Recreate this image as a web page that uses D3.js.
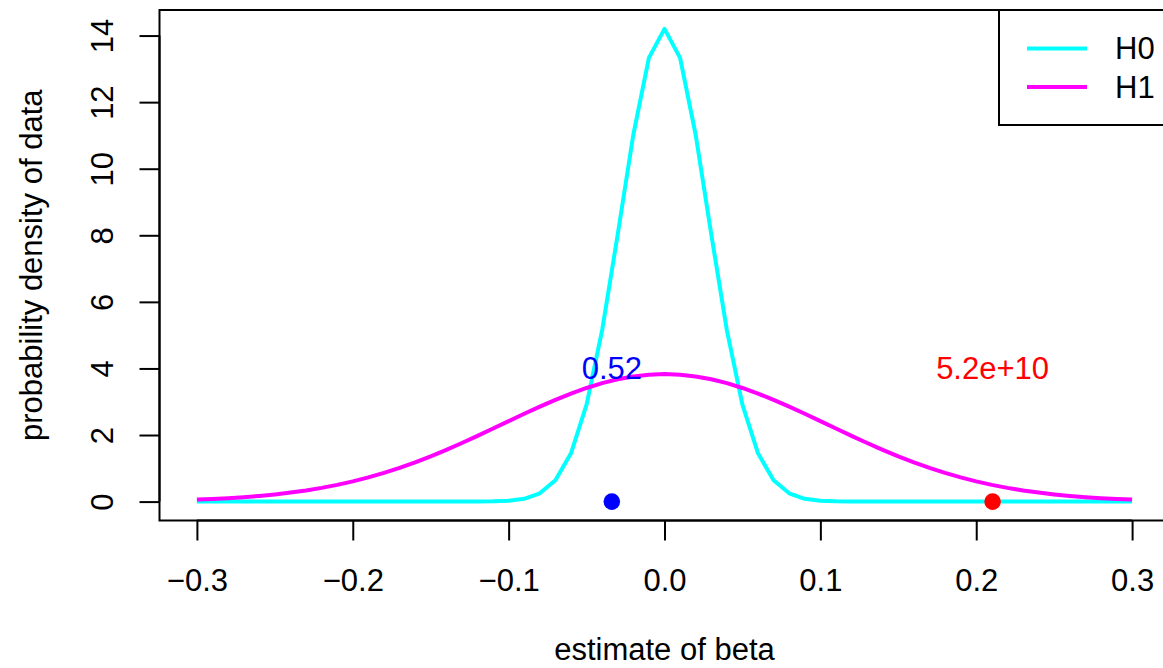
<!DOCTYPE html>
<html>
<head>
<meta charset="utf-8">
<script src="https://cdn.jsdelivr.net/npm/d3@7"></script>
<style>
  body { margin: 0; background: #fff; }
  svg { display: block; }
  text { font-family: "Liberation Sans", Arial, sans-serif; }
</style>
</head>
<body>
<svg id="chart" width="1163" height="668"></svg>
<script>
// ---- data ----
const betaGrid = [-0.30,-0.29,-0.28,-0.27,-0.26,-0.25,-0.24,-0.23,-0.22,-0.21,
  -0.20,-0.19,-0.18,-0.17,-0.16,-0.15,-0.14,-0.13,-0.12,-0.11,
  -0.10,-0.09,-0.08,-0.07,-0.06,-0.05,-0.04,-0.03,-0.02,-0.01,
  0.00,0.01,0.02,0.03,0.04,0.05,0.06,0.07,0.08,0.09,
  0.10,0.11,0.12,0.13,0.14,0.15,0.16,0.17,0.18,0.19,
  0.20,0.21,0.22,0.23,0.24,0.25,0.26,0.27,0.28,0.29,0.30];
const densityH0 = [0,0,0,0,0,0,0,0,0,0,
  0,0,0,0,0,0,0,0.0003,0.0015,0.0066,
  0.025,0.084,0.25,0.64,1.45,2.91,5.15,8.03,11.02,13.33,
  14.2,13.33,11.02,8.03,5.15,2.91,1.45,0.64,0.25,0.084,
  0.025,0.0066,0.0015,0.0003,0,0,0,0,0,0,
  0,0,0,0,0,0,0,0,0,0,0];
const densityH1 = [0.061,0.080,0.104,0.133,0.170,0.215,0.270,0.335,0.412,0.502,
  0.607,0.726,0.861,1.012,1.178,1.359,1.553,1.759,1.973,2.194,
  2.417,2.638,2.852,3.056,3.245,3.413,3.558,3.674,3.760,3.812,
  3.83,3.812,3.760,3.674,3.558,3.413,3.245,3.056,2.852,2.638,
  2.417,2.194,1.973,1.759,1.553,1.359,1.178,1.012,0.861,0.726,
  0.607,0.502,0.412,0.335,0.270,0.215,0.170,0.133,0.104,0.080,0.061];
const markerBeta = [-0.0338, 0.2105];
const markerLabels = ["0.52", "5.2e+10"];
const markerColors = ["#0000FF", "#FF0000"];
const markerLabelY = 4;
const seriesNames = ["H0", "H1"];
const seriesColors = ["#00FFFF", "#FF00FF"];
const xTicks = [-0.3,-0.2,-0.1,0.0,0.1,0.2,0.3];
const yTicks = [0,2,4,6,8,10,12,14];

// ---- layout ----
const svg = d3.select("#chart");
const FS = 31;
const x = d3.scaleLinear().domain([-0.324, 0.324]).range([159.5, 1169.5]);
const y = d3.scaleLinear().domain([-0.568, 14.768]).range([520.5, 10]);

// plot box
svg.append("rect")
  .attr("x", x(-0.324)).attr("y", y(14.768))
  .attr("width", x(0.324) - x(-0.324)).attr("height", y(-0.568) - y(14.768))
  .attr("fill", "none").attr("stroke", "#000").attr("stroke-width", 2);

// x axis
const xAxis = d3.axisBottom(x).tickValues(xTicks).tickSize(20).tickPadding(28)
  .tickFormat(d => d3.format(".1f")(d).replace("-", "\u2212"));
const gx = svg.append("g").attr("transform", `translate(0,${y(-0.568)})`).call(xAxis);
gx.select(".domain").attr("d", `M${x(-0.3)},0H${x(0.3)}`).attr("stroke-width", 2);
gx.selectAll(".tick line").attr("stroke-width", 2);
gx.selectAll(".tick text").attr("font-size", FS).attr("font-family", "Liberation Sans, Arial, sans-serif").attr("fill", "#000");

// y axis
const yAxis = d3.axisLeft(y).tickValues(yTicks).tickSize(20).tickFormat(d3.format("d"));
const gy = svg.append("g").attr("transform", `translate(${x(-0.324)},0)`).call(yAxis);
gy.select(".domain").attr("d", `M0,${y(0)}V${y(14)}`).attr("stroke-width", 2);
gy.selectAll(".tick line").attr("stroke-width", 2);
gy.selectAll(".tick text").remove();
gy.selectAll(".tick").append("text")
  .attr("transform", "translate(-47,0) rotate(-90)")
  .attr("text-anchor", "middle")
  .attr("font-size", FS).attr("fill", "#000")
  .text(d => d3.format("d")(d));

// axis titles
svg.append("text").attr("x", x(0)).attr("y", 660).attr("text-anchor", "middle")
  .attr("font-size", FS).text("estimate of beta");
svg.append("text").attr("transform", `translate(42,${(y(-0.568)+y(14.768))/2}) rotate(-90)`)
  .attr("text-anchor", "middle").attr("font-size", FS).text("probability density of data");

// curves
const line = d3.line().x((d, i) => x(betaGrid[i])).y(d => y(d));
svg.append("path").datum(densityH0).attr("d", line).attr("fill", "none")
  .attr("stroke", seriesColors[0]).attr("stroke-width", 4).attr("stroke-linejoin", "round");
svg.append("path").datum(densityH1).attr("d", line).attr("fill", "none")
  .attr("stroke", seriesColors[1]).attr("stroke-width", 4).attr("stroke-linejoin", "round");

// markers
svg.selectAll("circle.mk").data(markerBeta).enter().append("circle")
  .attr("cx", d => x(d)).attr("cy", y(0)).attr("r", 8.3)
  .attr("fill", (d, i) => markerColors[i]);
svg.selectAll("text.mk").data(markerBeta).enter().append("text")
  .attr("x", d => x(d)).attr("y", y(markerLabelY)).attr("dy", "0.35em")
  .attr("text-anchor", "middle").attr("font-size", FS)
  .attr("fill", (d, i) => markerColors[i]).text((d, i) => markerLabels[i]);

// legend
svg.append("rect").attr("x", 999).attr("y", 10).attr("width", 200).attr("height", 115)
  .attr("fill", "#fff").attr("stroke", "#000").attr("stroke-width", 2);
seriesNames.forEach((name, i) => {
  const ly = 48.5 + i * 38.5;
  svg.append("line").attr("x1", 1027).attr("x2", 1087).attr("y1", ly).attr("y2", ly)
    .attr("stroke", seriesColors[i]).attr("stroke-width", 4);
  svg.append("text").attr("x", 1115).attr("y", ly).attr("dy", "0.35em")
    .attr("font-size", FS).text(name);
});
</script>
</body>
</html>
